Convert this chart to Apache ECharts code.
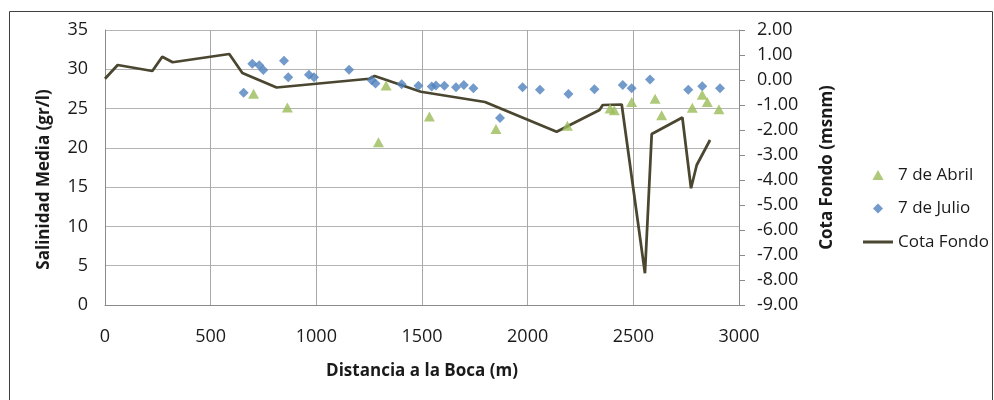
<!DOCTYPE html>
<html>
<head>
<meta charset="utf-8">
<script src="https://cdn.jsdelivr.net/npm/echarts@6/dist/echarts.min.js"></script>
<style>
html,body{margin:0;padding:0;background:#fff;}
#chart{width:994px;height:400px;}
</style>
</head>
<body>
<div id="chart"></div>
<script>
// Salinidad 7 de Julio: [distancia (m), salinidad (gr/l)]
const julioX = [656, 697, 730, 749, 847, 867, 965, 989, 1155, 1262, 1280, 1404, 1483, 1546, 1566, 1606, 1661, 1698, 1743, 1869, 1976, 2058, 2193, 2316, 2450, 2492, 2579, 2760, 2826, 2910];
const julioY = [27.0, 30.7, 30.5, 29.9, 31.1, 29.0, 29.3, 29.0, 29.95, 28.6, 28.2, 28.1, 27.9, 27.8, 27.95, 27.9, 27.7, 28.0, 27.6, 23.8, 27.7, 27.4, 26.85, 27.45, 28.0, 27.6, 28.7, 27.4, 27.85, 27.6];
// Salinidad 7 de Abril
const abrilX = [703, 863, 1294, 1330, 1535, 1850, 2188, 2390, 2410, 2492, 2603, 2634, 2779, 2826, 2850, 2905];
const abrilY = [26.9, 25.15, 20.7, 27.95, 24.0, 22.4, 22.8, 25.0, 24.8, 25.85, 26.25, 24.15, 25.1, 26.75, 25.85, 24.9];
// Cota Fondo (msnm)
const cotaX = [0, 60, 224, 271, 320, 588, 650, 812, 1250, 1276, 1495, 1798, 2137, 2340, 2355, 2445, 2555, 2587, 2732, 2773, 2800, 2863];
const cotaY = [0.05, 0.6, 0.36, 0.93, 0.71, 1.04, 0.28, -0.3, 0.05, 0.16, -0.47, -0.88, -2.07, -1.2, -1.0, -0.98, -7.73, -2.16, -1.5, -4.33, -3.4, -2.4];

const seriesNames = ['7 de Abril', '7 de Julio', 'Cota Fondo'];
const xTitle = 'Distancia a la Boca (m)';
const yLeftTitle = 'Salinidad Media (gr/l)';
const yRightTitle = 'Cota Fondo (msnm)';

const zip = (xs, ys) => xs.map((x, i) => [x, ys[i]]);

const FONT = '"Open Sans", sans-serif';
const labelStyle = { color: '#1a1a1a', fontFamily: FONT, fontSize: 18 };
const titleStyle = { color: '#1a1a1a', fontFamily: FONT, fontSize: 17, fontWeight: 'bold' };

const chart = echarts.init(document.getElementById('chart'), null, { renderer: 'canvas' });
chart.setOption({
  animation: false,
  backgroundColor: '#ffffff',
  graphic: [{
    type: 'rect', z: -10, silent: true,
    shape: { x: 9.5, y: 11.5, width: 983, height: 420 },
    style: { fill: 'none', stroke: '#3f3f3f', lineWidth: 1 }
  }],
  grid: { left: 105, right: 255, top: 30, bottom: 95, containLabel: false },
  legend: {
    orient: 'vertical',
    left: 863, top: 165, padding: 0,
    itemWidth: 30, itemHeight: 10, itemGap: 13.5,
    symbolKeepAspect: true,
    textStyle: { color: '#1a1a1a', fontFamily: FONT, fontSize: 17, lineHeight: 20 },
    data: [
      { name: seriesNames[0], icon: 'path://M5,0L10,9L0,9Z' },
      { name: seriesNames[1], icon: 'path://M5,0L10,5L5,10L0,5Z' },
      { name: seriesNames[2], icon: 'path://M0,0L30,0L30,3L0,3Z' }
    ]
  },
  xAxis: {
    type: 'value', min: 0, max: 3000, interval: 500,
    name: xTitle, nameLocation: 'middle', nameGap: 58, nameTextStyle: titleStyle,
    axisLine: { show: true, lineStyle: { color: '#8a8a8a', width: 1 } },
    axisTick: { show: false },
    axisLabel: Object.assign({ margin: 23, formatter: v => String(v) }, labelStyle),
    splitLine: { show: true, lineStyle: { color: '#a8a8a8', width: 1 } }
  },
  yAxis: [{
    type: 'value', min: 0, max: 35, interval: 5, position: 'left',
    name: yLeftTitle, nameLocation: 'middle', nameGap: 52, nameRotate: 90,
    nameTextStyle: Object.assign({ padding: [0, 24, 0, 0] }, titleStyle),
    axisLine: { show: true, lineStyle: { color: '#8a8a8a', width: 1 } },
    axisTick: { show: false },
    axisLabel: Object.assign({ margin: 17 }, labelStyle),
    splitLine: { show: true, lineStyle: { color: '#b4b4b4', width: 1 } }
  }, {
    type: 'value', min: -9, max: 2, interval: 1, position: 'right',
    name: yRightTitle, nameLocation: 'middle', nameGap: 80, nameRotate: 90,
    nameTextStyle: titleStyle,
    axisLine: { show: true, lineStyle: { color: '#8a8a8a', width: 1 } },
    axisTick: { show: true, inside: false, length: 6, lineStyle: { color: '#8a8a8a' } },
    axisLabel: Object.assign({ margin: 18, formatter: v => v.toFixed(2) }, labelStyle),
    splitLine: { show: false }
  }],
  series: [{
    name: seriesNames[2], type: 'line', yAxisIndex: 1,
    data: zip(cotaX, cotaY),
    symbol: 'none', smooth: false,
    lineStyle: { color: '#4a4630', width: 2.75 },
    itemStyle: { color: '#4a4630' },
    z: 2
  }, {
    name: seriesNames[1], type: 'scatter', yAxisIndex: 0,
    data: zip(julioX, julioY),
    symbol: 'diamond', symbolSize: 10,
    itemStyle: { color: '#4f81bd' },
    z: 3
  }, {
    name: seriesNames[0], type: 'scatter', yAxisIndex: 0,
    data: zip(abrilX, abrilY),
    symbol: 'triangle', symbolSize: [11, 10],
    itemStyle: { color: '#9bbb59' },
    z: 4
  }]
});
</script>
</body>
</html>
